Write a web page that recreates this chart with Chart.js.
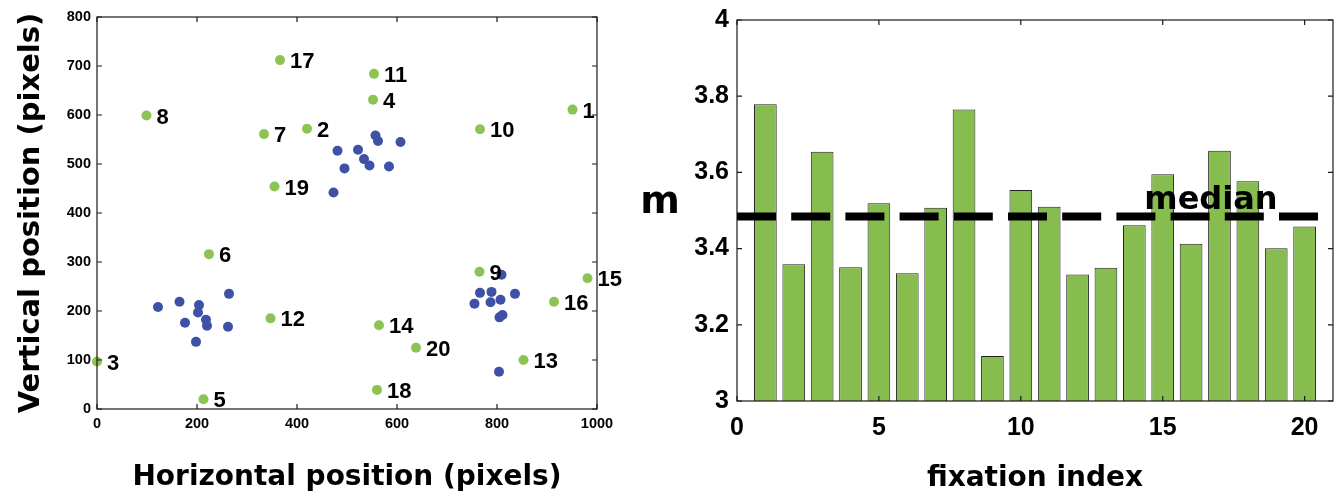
<!DOCTYPE html>
<html>
<head>
<meta charset="utf-8">
<script src="https://cdn.jsdelivr.net/npm/chart.js@4.4.1/dist/chart.umd.min.js"></script>
<style>
  html, body { margin: 0; padding: 0; background: #fff; }
  #wrap { position: relative; width: 1340px; height: 493px; }
  .box { position: absolute; top: 0; height: 493px; }
  #left { left: 0; width: 640px; }
  #right { left: 640px; width: 700px; }
</style>
</head>
<body>
<div id="wrap">
  <div class="box" id="left"><canvas id="scatter"></canvas></div>
  <div class="box" id="right"><canvas id="bars"></canvas></div>
</div>
<script>
// values
var fixationIndex = [1, 2, 3, 4, 5, 6, 7, 8, 9, 10, 11, 12, 13, 14, 15, 16, 17, 18, 19, 20];
var fixX = [951, 420, 0, 552, 213, 224, 334, 99, 765, 766, 554, 347, 853, 564, 981, 914, 366, 560, 355, 638];
var fixY = [611, 572, 97, 631, 20, 316, 561, 599, 280, 571, 684, 185, 100, 171, 267, 219, 712, 39, 454, 125];
var objX = [481, 522, 557, 562, 607, 495, 534, 545, 584, 473,
            122, 165, 204, 202, 264, 176, 218, 220, 262, 198,
            809, 766, 789, 836, 755, 787, 807, 805, 811, 804];
var objY = [527, 529, 558, 547, 545, 491, 510, 497, 495, 442,
            208, 219, 212, 197, 235, 176, 182, 170, 168, 137,
            274, 237, 239, 235, 215, 218, 223, 187, 192, 76];
var mValues = [3.779, 3.359, 3.654, 3.351, 3.519, 3.335, 3.507, 3.765, 3.118, 3.554,
               3.510, 3.332, 3.350, 3.461, 3.595, 3.413, 3.657, 3.577, 3.401, 3.458];
var medianValue = 3.484;
var medianEnd = 20.47;
var posXTicks = [0, 200, 400, 600, 800, 1000];
var posYTicks = [0, 100, 200, 300, 400, 500, 600, 700, 800];
var idxTicks = [0, 5, 10, 15, 20];
var mTicks = [3, 3.2, 3.4, 3.6, 3.8, 4];

var numFont = '"Liberation Sans", Arial, sans-serif';
var titleFont = '"DejaVu Sans", sans-serif';

// box round the plot area with inward tick marks (matlab style)
var framePlugin = {
  id: 'frame',
  afterDraw: function(chart) {
    var ctx = chart.ctx, a = chart.chartArea;
    var xs = chart.scales.x, ys = chart.scales.y;
    ctx.save();
    ctx.strokeStyle = '#1a1a1a';
    ctx.lineWidth = 1.2;
    ctx.strokeRect(a.left, a.top, a.right - a.left, a.bottom - a.top);
    ctx.beginPath();
    xs.ticks.forEach(function(t) {
      var px = xs.getPixelForValue(t.value);
      ctx.moveTo(px, a.bottom); ctx.lineTo(px, a.bottom - 5);
      ctx.moveTo(px, a.top); ctx.lineTo(px, a.top + 5);
    });
    ys.ticks.forEach(function(t) {
      var py = ys.getPixelForValue(t.value);
      ctx.moveTo(a.left, py); ctx.lineTo(a.left + 5, py);
      ctx.moveTo(a.right, py); ctx.lineTo(a.right - 5, py);
    });
    ctx.stroke();
    ctx.restore();
  }
};

var fixLabels = {
  id: 'fixLabels',
  afterDatasetsDraw: function(chart) {
    var ctx = chart.ctx;
    var meta = chart.getDatasetMeta(1);
    ctx.save();
    ctx.font = 'bold 22px ' + numFont;
    ctx.fillStyle = '#000';
    ctx.textAlign = 'left';
    ctx.textBaseline = 'middle';
    meta.data.forEach(function(pt, i) {
      ctx.fillText(String(fixationIndex[i]), pt.x + 10, pt.y + 2);
    });
    ctx.restore();
  }
};

var barNotes = {
  id: 'barNotes',
  afterDraw: function(chart) {
    var ctx = chart.ctx, a = chart.chartArea;
    var xs = chart.scales.x, ys = chart.scales.y;
    ctx.save();
    ctx.fillStyle = '#000';
    ctx.font = 'bold 38px ' + titleFont;
    ctx.textAlign = 'center';
    ctx.textBaseline = 'alphabetic';
    ctx.fillText('m', a.left - 77, 213);
    ctx.font = 'bold 32px ' + titleFont;
    ctx.fillText('median', xs.getPixelForValue(16.7), ys.getPixelForValue(medianValue) - 8);
    ctx.restore();
  }
};

function fixAxis(size, key) {
  return function(s) {
    s[key] = size;
    s.paddingTop = 0; s.paddingBottom = 0; s.paddingLeft = 0; s.paddingRight = 0;
  };
}

function plain(v) { return String(v); }

new Chart(document.getElementById('scatter'), {
  type: 'scatter',
  data: {
    datasets: [
      {
        data: objX.map(function(x, i) { return {x: x, y: objY[i]}; }),
        backgroundColor: '#3e51a6',
        borderWidth: 0,
        pointRadius: 5,
        clip: false
      },
      {
        data: fixX.map(function(x, i) { return {x: x, y: fixY[i]}; }),
        backgroundColor: '#8cc453',
        borderWidth: 0,
        pointRadius: 5,
        clip: false
      }
    ]
  },
  options: {
    animation: false,
    responsive: true,
    maintainAspectRatio: false,
    layout: { padding: { top: 17, right: 43, left: 0, bottom: 0 } },
    plugins: { legend: { display: false }, tooltip: { enabled: false } },
    scales: {
      x: {
        type: 'linear', min: 0, max: 1000,
        afterBuildTicks: function(s) { s.ticks = posXTicks.map(function(v) { return {value: v}; }); },
        afterFit: fixAxis(84, 'height'),
        grid: { display: false, drawTicks: false },
        border: { display: false },
        ticks: { padding: 6, color: '#000', callback: plain, font: { family: numFont, size: 14.5, weight: 'bold' } },
        title: {
          display: true, text: 'Horizontal position (pixels)', color: '#000',
          font: { family: titleFont, size: 28, weight: 'bold', lineHeight: 1 },
          padding: { top: 0, bottom: 1 }
        }
      },
      y: {
        type: 'linear', min: 0, max: 800,
        afterBuildTicks: function(s) { s.ticks = posYTicks.map(function(v) { return {value: v}; }); },
        afterFit: fixAxis(97, 'width'),
        grid: { display: false, drawTicks: false },
        border: { display: false },
        ticks: { padding: 6, color: '#000', callback: plain, font: { family: numFont, size: 14.5, weight: 'bold' } },
        title: {
          display: true, text: 'Vertical position (pixels)', color: '#000',
          font: { family: titleFont, size: 29, weight: 'bold' },
          padding: { top: 14, bottom: 0 }
        }
      }
    }
  },
  plugins: [framePlugin, fixLabels]
});

new Chart(document.getElementById('bars'), {
  type: 'bar',
  data: {
    datasets: [
      {
        type: 'line',
        data: [{x: 0, y: medianValue}, {x: medianEnd, y: medianValue}],
        borderColor: '#000',
        borderWidth: 8,
        borderDash: [39, 15.2],
        borderCapStyle: 'butt',
        pointRadius: 0,
        order: 0
      },
      {
        type: 'bar',
        data: fixationIndex.map(function(x, i) { return {x: x, y: mValues[i]}; }),
        backgroundColor: '#87bc4e',
        borderColor: '#222',
        borderWidth: 1,
        barPercentage: 0.8,
        categoryPercentage: 1,
        order: 1
      }
    ]
  },
  options: {
    animation: false,
    responsive: true,
    maintainAspectRatio: false,
    layout: { padding: { top: 20, right: 7, left: 0, bottom: 0 } },
    plugins: { legend: { display: false }, tooltip: { enabled: false } },
    scales: {
      x: {
        type: 'linear', min: 0, max: 21, offset: false,
        afterBuildTicks: function(s) { s.ticks = idxTicks.map(function(v) { return {value: v}; }); },
        afterFit: fixAxis(92, 'height'),
        grid: { display: false, drawTicks: false },
        border: { display: false },
        ticks: { padding: 12, color: '#000', callback: plain, font: { family: numFont, size: 25, weight: 'bold' } },
        title: {
          display: true, text: 'fixation index', color: '#000',
          font: { family: titleFont, size: 28, weight: 'bold', lineHeight: 1 },
          padding: { top: 0, bottom: 0 }
        }
      },
      y: {
        type: 'linear', min: 3, max: 4,
        afterBuildTicks: function(s) { s.ticks = mTicks.map(function(v) { return {value: v}; }); },
        afterFit: fixAxis(97, 'width'),
        grid: { display: false, drawTicks: false },
        border: { display: false },
        ticks: { padding: 8, color: '#000', callback: plain, font: { family: numFont, size: 25, weight: 'bold' } }
      }
    }
  },
  plugins: [framePlugin, barNotes]
});
</script>
</body>
</html>
